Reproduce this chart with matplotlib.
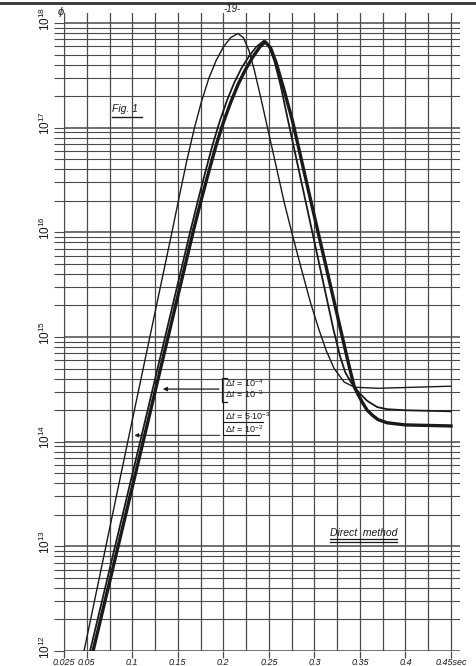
import matplotlib
matplotlib.use('Agg')
import matplotlib.pyplot as plt
import numpy as np
from matplotlib.lines import Line2D
from matplotlib.ticker import LogLocator, NullFormatter

plt.rcParams['font.family'] = ['Liberation Sans', 'DejaVu Sans']
plt.rcParams['mathtext.fontset'] = 'custom'
plt.rcParams['mathtext.rm'] = 'Liberation Sans'
plt.rcParams['mathtext.it'] = 'Liberation Sans:italic'

# time (sec) and log10 of flux phi
t_thin = [0.047, 0.0955, 0.144, 0.152, 0.160, 0.168, 0.176, 0.184, 0.192, 0.200, 0.208, 0.216,
          0.222, 0.228, 0.234, 0.241, 0.249, 0.258, 0.267, 0.276, 0.286, 0.296, 0.305, 0.313,
          0.3216, 0.3326, 0.344, 0.37, 0.41, 0.45]
log_phi_thin = [12.0, 14.02, 16.02, 16.36, 16.69, 16.99, 17.25, 17.47, 17.64, 17.77, 17.86, 17.90,
                17.86, 17.74, 17.55, 17.29, 16.98, 16.63, 16.28, 15.97, 15.64, 15.32, 15.07, 14.87,
                14.70, 14.57, 14.52, 14.51, 14.52, 14.53]

t_mid = [0.0536, 0.11, 0.164, 0.172, 0.180, 0.188, 0.196, 0.204, 0.212, 0.220, 0.228, 0.236,
         0.2445, 0.250, 0.256, 0.263, 0.271, 0.290, 0.310, 0.321, 0.328, 0.334, 0.340, 0.344,
         0.351, 0.358, 0.369, 0.380, 0.40, 0.45]
log_phi_mid = [12.0, 14.05, 16.02, 16.30, 16.57, 16.83, 17.06, 17.26, 17.43, 17.57, 17.68, 17.77,
               17.83, 17.78, 17.64, 17.40, 17.07, 16.31, 15.51, 15.07, 14.82, 14.66, 14.57, 14.52,
               14.45, 14.39, 14.33, 14.31, 14.30, 14.29]

t_thick = [0.0569, 0.113, 0.1675, 0.176, 0.184, 0.192, 0.200, 0.208, 0.216, 0.224, 0.232, 0.240,
           0.246, 0.252, 0.258, 0.266, 0.2758, 0.295, 0.315, 0.3288, 0.336, 0.341, 0.344, 0.348,
           0.353, 0.358, 0.364, 0.370, 0.380, 0.40, 0.45]
log_phi_thick = [12.0, 14.04, 16.03, 16.32, 16.58, 16.83, 17.05, 17.24, 17.41, 17.55, 17.67, 17.77,
                 17.82, 17.76, 17.62, 17.38, 17.07, 16.34, 15.59, 15.07, 14.80, 14.62, 14.52, 14.45,
                 14.37, 14.30, 14.25, 14.21, 14.18, 14.16, 14.15]

x_ticks = [0.025, 0.05, 0.1, 0.15, 0.2, 0.25, 0.3, 0.35, 0.4, 0.45]
x_labels = ['0.025', '0.05', '0.1', '0.15', '0.2', '0.25', '0.3', '0.35', '0.4', '0.45sec']
x_grid = [0.025 * k for k in range(1, 19)]
y_exps = [12, 13, 14, 15, 16, 17, 18]

ink = '#1a1a1a'
grid_c = '#4a4a4a'

fig = plt.figure(figsize=(4.76, 6.66), dpi=100)
ax = fig.add_axes([64 / 476, 15 / 666, 396 / 476, 638 / 666])
ax.set_yscale('log')
ax.set_xlim(0.025, 0.4599)
ax.set_ylim(1e12, 10 ** 18.0955)

# graph paper grid
for xv in x_grid:
    ax.axvline(xv, color=grid_c, lw=0.9, zorder=1)
for e in y_exps:
    ax.axhline(10.0 ** e, color=grid_c, lw=1.1, zorder=1)
    if e < 18:
        for m in range(2, 10):
            ax.axhline(m * 10.0 ** e, color=grid_c, lw=0.8, zorder=1)

ax.plot(t_thin, 10 ** np.array(log_phi_thin), color=ink, lw=1.0, zorder=3)
ax.plot(t_mid, 10 ** np.array(log_phi_mid), color=ink, lw=1.3, zorder=3)
ax.plot(t_thick, 10 ** np.array(log_phi_thick), color=ink, lw=2.4, zorder=3)

for s in ['top', 'right', 'bottom']:
    ax.spines[s].set_visible(False)
ax.spines['left'].set_color(grid_c)

ax.set_xticks(x_ticks)
ax.set_xticklabels(x_labels, fontsize=6.5, style='italic', color=ink)
ax.tick_params(axis='x', length=5, width=0.9, color=grid_c, pad=0.3)
ax.yaxis.set_major_locator(LogLocator(base=10, numticks=10))
ax.yaxis.set_minor_locator(LogLocator(base=10, subs=range(2, 10), numticks=20))
ax.yaxis.set_major_formatter(NullFormatter())
ax.yaxis.set_minor_formatter(NullFormatter())
ax.tick_params(axis='y', which='both', length=7, width=0.8, color=grid_c)

ytr = ax.get_yaxis_transform()
for e in y_exps:
    ax.text(-0.047, 10.0 ** e * 1.1, r'$10^{%d}$' % e, transform=ytr, rotation=90,
            ha='center', va='center', fontsize=8.5, color=ink, clip_on=False)

# annotations
ax.text(0.0777, 1.4e17, 'Fig. 1', fontsize=7.5, style='italic', color=ink, zorder=4)
ax.plot([0.0777, 0.1107], [1.27e17, 1.27e17], color=ink, lw=1.0, zorder=4)
ax.text(0.317, 1.25e13, 'Direct  method', fontsize=7.5, style='italic', color=ink, zorder=4)
ax.plot([0.317, 0.3905], [1.17e13, 1.17e13], color=ink, lw=0.9, zorder=4)
ax.plot([0.317, 0.3905], [1.11e13, 1.11e13], color=ink, lw=0.9, zorder=4)

lab = dict(fontsize=6.5, color=ink, zorder=4, va='baseline')
ax.text(0.2018, 3.33e14, r'$\Delta t\, =\, 10^{-4}$', **lab)
ax.text(0.2018, 2.61e14, r'$\Delta t\, =\, 10^{-3}$', **lab)
ax.text(0.2018, 1.61e14, r'$\Delta t\, =\, 5{\cdot}10^{-3}$', **lab)
ax.text(0.2018, 1.21e14, r'$\Delta t\, =\, 10^{-2}$', **lab)
# bracket and underlines
ax.plot([0.2035, 0.1982, 0.1982, 0.2035], [4.06e14, 4.06e14, 2.39e14, 2.39e14], color=ink, lw=0.9, zorder=4)
ax.plot([0.1993, 0.1993], [2.39e14, 1.15e14], color=ink, lw=0.7, zorder=4)
ax.plot([0.1993, 0.2435], [1.55e14, 1.55e14], color=ink, lw=0.8, zorder=4)
ax.plot([0.1993, 0.2395], [1.15e14, 1.15e14], color=ink, lw=0.8, zorder=4)
ax.annotate('', xy=(0.1304, 3.18e14), xytext=(0.1982, 3.18e14),
            arrowprops=dict(arrowstyle='-|>', color=ink, lw=0.9, mutation_scale=6), zorder=4)
ax.annotate('', xy=(0.0993, 1.15e14), xytext=(0.1993, 1.15e14),
            arrowprops=dict(arrowstyle='-|>', color=ink, lw=0.7, mutation_scale=6), zorder=4)

fig.text(232 / 476, 1 - 9 / 666, '-19-', fontsize=7, style='italic', ha='center', va='center', color=ink)
fig.text(61 / 476, 1 - 12 / 666, r'$\phi$', fontsize=8, ha='center', va='center', color=ink)
fig.add_artist(Line2D([0, 1], [1 - 2.5 / 666, 1 - 2.5 / 666], color='#333333', lw=2))

fig.savefig('out.png', dpi=100, facecolor='white')
